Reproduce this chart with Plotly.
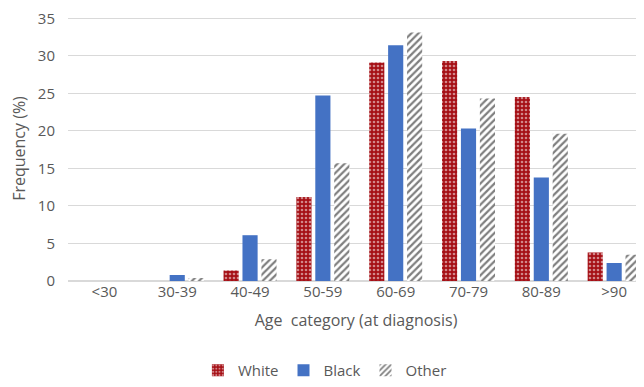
import plotly.graph_objects as go

categories = ["<30", "30-39", "40-49", "50-59", "60-69", "70-79", "80-89", ">90"]
white = [0, 0, 1.4, 11.2, 29.1, 29.3, 24.5, 3.8]
black = [0, 0.8, 6.1, 24.7, 31.4, 20.3, 13.8, 2.4]
other = [0, 0.4, 2.9, 15.7, 33.1, 24.3, 19.6, 3.5]
y_ticks = [0, 5, 10, 15, 20, 25, 30, 35]

FONT = "Open Sans"
GRAY = "#595959"

fig = go.Figure()
fig.add_trace(go.Bar(
    name="White", x=categories, y=white,
    marker=dict(color="#A50F15", line=dict(width=0),
                pattern=dict(shape=".", fgcolor="white", bgcolor="#A50F15",
                             size=4, solidity=0.35, fillmode="overlay")),
))
fig.add_trace(go.Bar(
    name="Black", x=categories, y=black,
    marker=dict(color="#4472C4", line=dict(width=0)),
))
fig.add_trace(go.Bar(
    name="Other", x=categories, y=other,
    marker=dict(color="white", line=dict(width=0),
                pattern=dict(shape="/", fgcolor="#7F7F7F", bgcolor="white",
                             size=5, solidity=0.45, fillmode="replace")),
))

fig.update_layout(
    width=636, height=379,
    margin=dict(l=60, r=0, t=8, b=106, autoexpand=False),
    paper_bgcolor="white", plot_bgcolor="white",
    barmode="group", bargap=0.22, bargroupgap=0.2,
    font=dict(family=FONT, size=15, color=GRAY),
    showlegend=True,
    legend=dict(orientation="h", x=0.446, xanchor="center",
                yref="container", y=0.0, yanchor="bottom",
                font=dict(size=15, color=GRAY), traceorder="normal",
                itemsizing="constant", itemwidth=30),
)
fig.update_xaxes(
    range=[-0.5, 7.41], showgrid=False, zeroline=False, showline=False,
    ticks="", tickfont=dict(size=15, color=GRAY), automargin=False,
    title=dict(text="Age  category (at diagnosis)", font=dict(size=16, color=GRAY), standoff=14),
)
fig.update_yaxes(
    range=[0, 35.3], tickvals=y_ticks, showgrid=True, gridcolor="#D9D9D9", gridwidth=1,
    zeroline=True, zerolinecolor="#D9D9D9", showline=False, ticks="", automargin=False,
    tickfont=dict(size=15, color=GRAY), ticklabelstandoff=12, ticklabeloverflow="allow",
    title=dict(text="Frequency (%)", font=dict(size=16, color=GRAY), standoff=8),
)

fig.write_html("out.html")
